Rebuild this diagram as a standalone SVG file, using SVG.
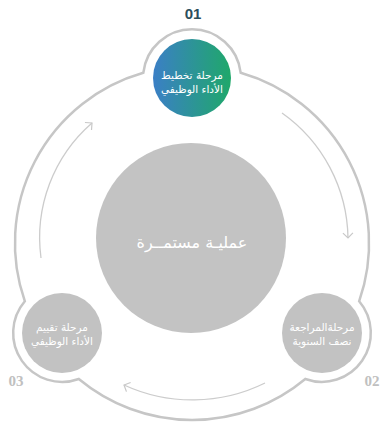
<svg xmlns="http://www.w3.org/2000/svg" width="380" height="424" viewBox="0 0 380 424">
<defs>
<linearGradient id="g1" x1="0" y1="0" x2="1" y2="0">
<stop offset="0" stop-color="#3b7fc6"/>
<stop offset="1" stop-color="#1fa86a"/>
</linearGradient>
<marker id="chev" markerWidth="12" markerHeight="12" refX="6" refY="6" orient="auto" markerUnits="userSpaceOnUse">
<path d="M1,1 L6,6 L1,11" fill="none" stroke="#c8c8c8" stroke-width="1.2"/>
</marker>
<style>
.ring{fill:none;stroke:#c6c6c6;stroke-width:2.5}
.flow{fill:none;stroke:#cccccc;stroke-width:1.3}
.gray{fill:#c2c2c2}
.lbl{font-family:"DejaVu Sans",sans-serif;font-size:10.5px;fill:#ffffff;text-anchor:middle}
.num{font-family:"Liberation Serif",serif;font-weight:bold;font-size:15px;fill:#c0c0c0;text-anchor:middle}
</style>
</defs>
<rect width="380" height="424" fill="#ffffff"/>
<g id="outline">
<path class="ring" d="M143.3,72.8 A49,49 0 0 1 240.7,72.8 A177,177 0 0 1 359.2,301.2 A49,49 0 0 1 305.3,379 A177,177 0 0 1 78.8,379 A49,49 0 0 1 24.8,301.2 A177,177 0 0 1 143.3,72.8 Z"/>
</g>
<g id="connectors">
<path class="flow" d="M282,113 A156,156 0 0 1 348,238" marker-end="url(#chev)"/>
<path class="flow" d="M265,383 A164,164 0 0 1 124,385" marker-end="url(#chev)"/>
<path class="flow" d="M41,258 A152,152 0 0 1 92,123" marker-end="url(#chev)"/>
</g>
<g id="center">
<circle cx="191" cy="238" r="95" fill="#c3c3c3"/>
<text x="192" y="248" font-family="DejaVu Sans,sans-serif" font-size="16" fill="#ffffff" text-anchor="middle">عمليـة مستمــرة</text>
</g>
<g id="node1">
<circle cx="192" cy="78" r="39" fill="url(#g1)"/>
<text class="lbl" x="192" y="79">مرحلة تخطيط</text>
<text class="lbl" x="192" y="93">الأداء الوظيفي</text>
<text x="193" y="19" font-family="Liberation Sans,sans-serif" font-weight="bold" font-size="15" fill="#2c4d5c" text-anchor="middle">01</text>
</g>
<g id="node2">
<circle class="gray" cx="322" cy="333" r="40"/>
<text class="lbl" x="322" y="331">مرحلةالمراجعة</text>
<text class="lbl" x="322" y="345">نصف السنوية</text>
<text class="num" x="372" y="386">02</text>
</g>
<g id="node3">
<circle class="gray" cx="62" cy="333" r="40"/>
<text class="lbl" x="62" y="331">مرحلة تقييم</text>
<text class="lbl" x="62" y="345">الأداء الوظيفي</text>
<text class="num" x="16" y="386">03</text>
</g>
</svg>
